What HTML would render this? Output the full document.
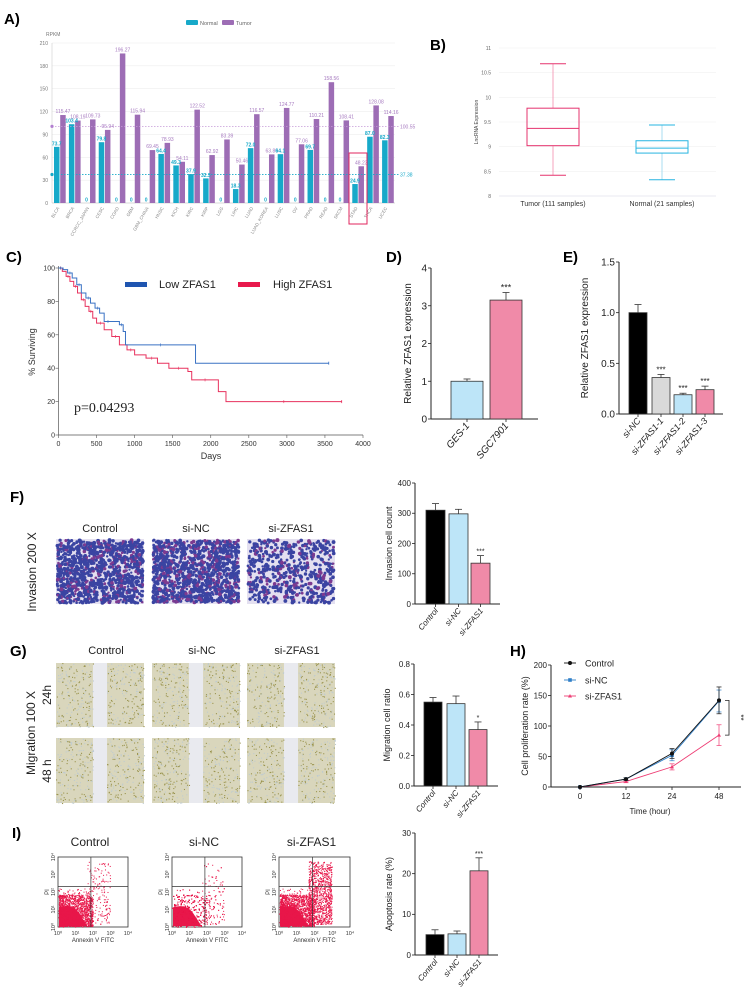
<!DOCTYPE html>
<html><head><meta charset="utf-8"><style>
html,body{margin:0;padding:0;background:#fff}
svg{display:block;font-family:"Liberation Sans",sans-serif}
</style></head><body>
<svg id="fig" width="755" height="1008" viewBox="0 0 755 1008" xmlns="http://www.w3.org/2000/svg"></svg>
<script>
// ---------- DATA ----------
const aCategories=["BLCA","BRCA","CCRCC_JAPAN","CESC","COAD","GBM","GBM_CHINA","HNSC","KICH","KIRC","KIRP","LGG","LIHC","LUAD","LUAD_KOREA","LUSC","OV","PRAD","READ","SKCM","STAD","THCA","UCEC"];
const aNormal=[73.7,103.4,0,79.8,0,0,0,64.4,49.3,37.9,32.3,0,18.3,72.0,0,64.1,0,69.7,0,0,24.9,87.0,82.3];
const aTumor=[115.47,108.19,109.73,95.94,196.27,115.94,69.45,78.93,54.11,122.52,62.92,83.39,50.46,116.57,63.8,124.77,77.06,110.21,158.56,108.41,48.23,128.08,114.16];
const aTicks=[0,30,60,90,120,150,180,210];
const aTumorMean=100.55, aNormalMean=37.38;
const bGroups=["Tumor (111 samples)","Normal (21 samples)"];
const bTumorStats=[8.42,9.02,9.37,9.78,10.68];
const bNormalStats=[8.33,8.87,8.97,9.12,9.44];
const bTicks=[8,8.5,9,9.5,10,10.5,11];
const kmLowT=[0,60,120,180,240,300,360,420,480,540,600,700,800,850,880,1800,3550];
const kmLowS=[100,99,97,94,90,85,82,79,76,73,68,68,66,62,54,43,43];
const kmHighT=[0,50,100,150,200,250,300,350,400,450,500,600,700,800,900,1000,1150,1300,1450,1700,1750,2100,2200,3720];
const kmHighS=[100,98,95,92,89,85,81,77,74,70,67,63,59,54,51,48,46,43,40,38,33,26,20,20];
const kmXTicks=[0,500,1000,1500,2000,2500,3000,3500,4000];
const kmYTicks=[0,20,40,60,80,100];
const dCats=["GES-1","SGC7901"], dVals=[1.0,3.15], dErr=[0.06,0.2], dTicks=[0,1,2,3,4];
const eCats=["si-NC","si-ZFAS1-1","si-ZFAS1-2","si-ZFAS1-3"], eVals=[1.0,0.36,0.19,0.24], eErr=[0.08,0.03,0.015,0.035], eTicks=[0,0.5,1.0,1.5];
const tripleCats=["Control","si-NC","si-ZFAS1"];
const fVals=[310,298,135], fErr=[22,15,25], fTicks=[0,100,200,300,400];
const gVals=[0.55,0.54,0.37], gErr=[0.03,0.05,0.05], gTicks=[0,0.2,0.4,0.6,0.8];
const iVals=[5.0,5.2,20.7], iErr=[1.2,0.7,3.2], iTicks=[0,10,20,30];
const hTimes=["0","12","24","48"], hTicks=[0,50,100,150,200];
const hControl=[0,13,55,142], hControlErr=[0,2,8,22];
const hNC=[0,13,52,141], hNCErr=[0,2,9,18];
const hSi=[0,9,33,85], hSiErr=[0,2,5,17];

// ---------- helpers ----------
const NS="http://www.w3.org/2000/svg";
const svg=document.getElementById('fig');
function el(tag,attrs,parent,text){const e=document.createElementNS(NS,tag);for(const k in attrs)e.setAttribute(k,attrs[k]);if(text!==undefined)e.textContent=text;(parent||svg).appendChild(e);return e;}
function grp(name){const g=el('g',{});return g;}
function lin(d0,d1,r0,r1){return v=>r0+(v-d0)*(r1-r0)/(d1-d0);}
function rng(seed){let s=seed;return()=>{s=(s*1103515245+12345)%2147483648;return s/2147483648;};}
function plabel(t,x,y){const e=el('text',{x:x,y:y,'font-size':15,'font-weight':'bold'},svg,t);}

// ---------- Panel A ----------
plabel("A)",4,24);
(function(){
const g=grp('panel-a-bar-chart');
const x0=52,x1=395,y=lin(0,210,203,43);const band=(x1-x0)/aCategories.length;
aTicks.forEach(t=>{el('line',{x1:x0,x2:x1,y1:y(t),y2:y(t),stroke:'#eee','stroke-width':0.6},g);el('text',{x:x0-4,y:y(t)+2,'font-size':5,fill:'#777','text-anchor':'end'},g,String(t));});
el('line',{x1:x0,x2:x0,y1:43,y2:203,stroke:'#ccc','stroke-width':0.6},g);
el('line',{x1:x0,x2:x1,y1:203,y2:203,stroke:'#bbb','stroke-width':0.6},g);
el('text',{x:46,y:36,'font-size':5,fill:'#777'},g,'RPKM');
aCategories.forEach((c,i)=>{
 const gx=x0+i*band;
 const nb=el('rect',{x:gx+2,y:y(aNormal[i]),width:5.5,height:203-y(aNormal[i]),fill:'#17a9c9'},g);
 
 const tb=el('rect',{x:gx+8.2,y:y(aTumor[i]),width:5.5,height:203-y(aTumor[i]),fill:'#9d6db5'},g);
 
 el('text',{x:gx+4.7,y:y(aNormal[i])-1.5,'font-size':5,'font-weight':'bold',fill:'#17a9c9','text-anchor':'middle'},g,aNormal[i]===0?'0':aNormal[i].toFixed(1));
 el('text',{x:gx+11,y:y(aTumor[i])-2,'font-size':5,fill:'#a77bc0','text-anchor':'middle'},g,aTumor[i].toFixed(2));
 const lx=gx+band/2,ly=208;
 el('text',{x:lx,y:ly,'font-size':4.5,fill:'#888','text-anchor':'end',transform:`rotate(-60 ${lx} ${ly})`},g,c);
});
el('line',{x1:x0,x2:x1+5,y1:y(aTumorMean),y2:y(aTumorMean),stroke:'#c59ad8','stroke-width':0.8,'stroke-dasharray':'1.5,1.5'},g);
el('circle',{cx:x0,cy:y(aTumorMean),r:1.6,fill:'#b27fd0'},g);
el('text',{x:400,y:y(aTumorMean)+2,'font-size':5,fill:'#a77bc0'},g,aTumorMean.toFixed(2));
el('line',{x1:x0,x2:x1+5,y1:y(aNormalMean),y2:y(aNormalMean),stroke:'#17a9c9','stroke-width':0.9,'stroke-dasharray':'1.5,1.5'},g);
el('circle',{cx:x0,cy:y(aNormalMean),r:1.6,fill:'#17a9c9'},g);
el('text',{x:400,y:y(aNormalMean)+2,'font-size':5,fill:'#17a9c9'},g,aNormalMean.toFixed(2));
const rb=el('rect',{x:349,y:153,width:18,height:71,fill:'none',stroke:'#e0245e','stroke-width':1},g);

const lg=grp('panel-a-legend');
el('rect',{x:186,y:20,width:12,height:5,fill:'#17a9c9',rx:1},lg);el('text',{x:200,y:25,'font-size':5.5,fill:'#666'},lg,'Normal');
el('rect',{x:222,y:20,width:12,height:5,fill:'#9d6db5',rx:1},lg);el('text',{x:236,y:25,'font-size':5.5,fill:'#666'},lg,'Tumor');
})();

// ---------- Panel B ----------
plabel("B)",430,50);
(function(){
const g=grp('panel-b-boxplot');
const x0=499,x1=716,y=lin(8,11,196,48);
bTicks.forEach(t=>{el('line',{x1:x0,x2:x1,y1:y(t),y2:y(t),stroke:'#f0f0f0','stroke-width':0.6},g);el('text',{x:x0-8,y:y(t)+2,'font-size':5,fill:'#666','text-anchor':'end'},g,String(t));});
el('line',{x1:x0,x2:x1,y1:196,y2:196,stroke:'#dde','stroke-width':0.6},g);
el('text',{x:478,y:122,'font-size':5,fill:'#444','text-anchor':'middle',transform:'rotate(-90 478 122)'},g,'LncRNA Expression');
[[bTumorStats,'#e5336e','#f4a3bd',553],[bNormalStats,'#27b4e0','#a9def0',662]].forEach((s,i)=>{
 const [st,c,cl,cx]=s;const bx=grp('box-'+(i?'normal':'tumor'));
 el('line',{x1:cx,x2:cx,y1:y(st[4]),y2:y(st[3]),stroke:cl,'stroke-width':1},bx);
 el('line',{x1:cx,x2:cx,y1:y(st[1]),y2:y(st[0]),stroke:cl,'stroke-width':1},bx);
 el('line',{x1:cx-13,x2:cx+13,y1:y(st[4]),y2:y(st[4]),stroke:c,'stroke-width':1},bx);
 el('line',{x1:cx-13,x2:cx+13,y1:y(st[0]),y2:y(st[0]),stroke:c,'stroke-width':1},bx);
 el('rect',{x:cx-26,y:y(st[3]),width:52,height:y(st[1])-y(st[3]),fill:'none',stroke:c,'stroke-width':1},bx);
 el('line',{x1:cx-26,x2:cx+26,y1:y(st[2]),y2:y(st[2]),stroke:c,'stroke-width':1},bx);
 el('text',{x:cx,y:206,'font-size':7,fill:'#333','text-anchor':'middle'},g,bGroups[i]);
});
})();

// ---------- Panel C ----------
plabel("C)",6,262);
(function(){
const g=grp('panel-c-km-plot');
const x=lin(0,4000,58.5,363),y=lin(0,100,435,268);
el('line',{x1:58.5,x2:58.5,y1:266,y2:435,stroke:'#555','stroke-width':0.7},g);
el('line',{x1:58.5,x2:363,y1:435,y2:435,stroke:'#555','stroke-width':0.7},g);
kmXTicks.forEach(t=>{el('line',{x1:x(t),x2:x(t),y1:435,y2:438,stroke:'#555','stroke-width':0.6},g);el('text',{x:x(t),y:446,'font-size':7,fill:'#333','text-anchor':'middle'},g,String(t));});
kmYTicks.forEach(t=>{el('line',{x1:55.5,x2:58.5,y1:y(t),y2:y(t),stroke:'#555','stroke-width':0.6},g);el('text',{x:55,y:y(t)+2.5,'font-size':7,fill:'#333','text-anchor':'end'},g,String(t));});
el('text',{x:211,y:459,'font-size':9,fill:'#333','text-anchor':'middle'},g,'Days');
el('text',{x:35,y:352,'font-size':9,fill:'#333','text-anchor':'middle',transform:'rotate(-90 35 352)'},g,'% Surviving');
function step(T,S,c,name){let d=`M${x(T[0])},${y(S[0])}`;for(let i=1;i<T.length;i++){d+=`H${x(T[i])}V${y(S[i])}`;}const p=el('path',{d:d,fill:'none',stroke:c,'stroke-width':1},g);
 for(let i=1;i<T.length;i+=2){const xm=x((T[i-1]+T[i])/2);el('line',{x1:xm,x2:xm,y1:y(S[i-1])-1.5,y2:y(S[i-1])+1.5,stroke:c,'stroke-width':0.6},g);}
 el('line',{x1:x(T[T.length-1]),x2:x(T[T.length-1]),y1:y(S[S.length-1])-1.5,y2:y(S[S.length-1])+1.5,stroke:c,'stroke-width':0.8},g);}
step(kmHighT,kmHighS,'#e8325e','km-high-zfas1');
step(kmLowT,kmLowS,'#3a72c4','km-low-zfas1');
const lg=grp('panel-c-legend');
el('rect',{x:125,y:282,width:22,height:5,fill:'#1f55b0'},lg);el('text',{x:159,y:288,'font-size':11,fill:'#222'},lg,'Low  ZFAS1');
el('rect',{x:238,y:282,width:22,height:5,fill:'#e8194c'},lg);el('text',{x:273,y:288,'font-size':11,fill:'#222'},lg,'High  ZFAS1');
el('text',{x:74,y:412,'font-size':14,'font-family':'"Liberation Serif",serif',fill:'#222'},g,'p=0.04293');
})();

// ---------- generic bar chart ----------
function barChart(opt){
 const g=grp(opt.name);const y=lin(opt.ticks[0],opt.ticks[opt.ticks.length-1],opt.y0,opt.y1);
 el('line',{x1:opt.ax,x2:opt.ax,y1:opt.y1,y2:opt.y0,stroke:'#222','stroke-width':1},g);
 el('line',{x1:opt.ax,x2:opt.axEnd,y1:opt.y0,y2:opt.y0,stroke:'#222','stroke-width':1},g);
 opt.ticks.forEach(t=>{el('line',{x1:opt.ax-3,x2:opt.ax,y1:y(t),y2:y(t),stroke:'#222','stroke-width':0.8},g);el('text',{x:opt.ax-4,y:y(t)+opt.fs*0.35,'font-size':opt.fs,fill:'#222','text-anchor':'end'},g,opt.fmt?opt.fmt(t):String(t));});
 opt.vals.forEach((v,i)=>{const bx=opt.bx[i],bw=opt.bw;const cx=bx+bw/2;
  const top=y(v+opt.err[i]);
  el('line',{x1:cx,x2:cx,y1:y(v),y2:top,stroke:'#333','stroke-width':0.8},g);
  el('line',{x1:cx-3.5,x2:cx+3.5,y1:top,y2:top,stroke:'#333','stroke-width':0.8},g);
  const r=el('rect',{x:bx,y:y(v),width:bw,height:opt.y0-y(v),fill:opt.colors[i],stroke:'#333','stroke-width':0.8},g);
  
  el('line',{x1:cx,x2:cx,y1:opt.y0,y2:opt.y0+3,stroke:'#222','stroke-width':0.8},g);
  const lx=cx+3,ly=opt.y0+7;el('text',{x:lx,y:ly,'font-size':opt.lfs,'font-style':'italic',fill:'#222','text-anchor':'end',transform:`rotate(-50 ${lx} ${ly})`},g,opt.cats[i]);
  if(opt.stars&&opt.stars[i])el('text',{x:cx,y:top-2,'font-size':opt.sfs||7,fill:'#222','text-anchor':'middle'},g,opt.stars[i]);
 });
 el('text',{x:opt.tx,y:(opt.y0+opt.y1)/2,'font-size':opt.tfs,fill:'#222','text-anchor':'middle',transform:`rotate(-90 ${opt.tx} ${(opt.y0+opt.y1)/2})`},g,opt.title);
}
plabel("D)",386,262);
barChart({name:'panel-d-bar-chart',cats:dCats,vals:dVals,err:dErr,ticks:dTicks,ax:431,axEnd:538,y0:419,y1:268,bx:[451,490],bw:32,colors:['#bde5f8','#f08aa8'],fs:10,lfs:10,tx:411,tfs:10,title:'Relative ZFAS1 expression',stars:['','***'],sfs:9});
plabel("E)",563,262);
barChart({name:'panel-e-bar-chart',cats:eCats,vals:eVals,err:eErr,ticks:eTicks,ax:619,axEnd:723,y0:414,y1:262,bx:[629,652,674,696],bw:18,colors:['#000','#d9d9d9','#bde5f8','#f08aa8'],fs:10,lfs:9,tx:588,tfs:10,title:'Relative ZFAS1 expression',fmt:t=>t.toFixed(1),stars:['','***','***','***'],sfs:8});

// ---------- micrographs ----------
function microInvasion(x,y,w,h,seed,n,name){
 const g=grp(name);const r=rng(seed);
 el('rect',{x:x,y:y,width:w,height:h,fill:'#e4e0f0'},g);
 for(let i=0;i<n;i++){const cx=x+1+r()*(w-2),cy=y+1+r()*(h-2);el('circle',{cx:cx,cy:cy,r:1.1+r()*0.9,fill:r()<0.8?'#3a44a2':'#7d3a90'},g);}
}
function microWound(x,y,w,h,seed,name){
 const g=grp(name);const r=rng(seed);
 el('rect',{x:x,y:y,width:w,height:h,fill:'#d9d6bc'},g);
 el('rect',{x:x+w*0.42,y:y,width:w*0.16,height:h,fill:'#e9eaef'},g);
 for(let i=0;i<500;i++){let cx=x+r()*w;if(cx>x+w*0.42&&cx<x+w*0.58)continue;el('rect',{x:cx,y:y+r()*h,width:1.1,height:1.1,fill:r()<0.5?'#9a944f':'#bfcbd0'},g);}
}
plabel("F)",10,502);
el('text',{x:36,y:572,'font-size':12,fill:'#222','text-anchor':'middle',transform:'rotate(-90 36 572)'},svg,'Invasion 200 X');
[[56,'control'],[152,'si-nc'],[247,'si-zfas1']].forEach((p,i)=>{
 el('text',{x:p[0]+44,y:532,'font-size':11,fill:'#222','text-anchor':'middle'},svg,tripleCats[i]);
 microInvasion(p[0],539,88,65,11+i*7,[1100,1150,600][i],'invasion-image-'+p[1]);
});
barChart({name:'panel-f-bar-chart',cats:tripleCats,vals:fVals,err:fErr,ticks:fTicks,ax:415,axEnd:500,y0:604,y1:483,bx:[426,449,471],bw:19,colors:['#000','#bde5f8','#f08aa8'],fs:8,lfs:8,tx:392,tfs:9,title:'Invasion cell count',stars:['','','***'],sfs:7});

plabel("G)",10,656);
el('text',{x:35,y:733,'font-size':12,fill:'#222','text-anchor':'middle',transform:'rotate(-90 35 733)'},svg,'Migration 100 X');
el('text',{x:51,y:695,'font-size':12,fill:'#222','text-anchor':'middle',transform:'rotate(-90 51 695)'},svg,'24h');
el('text',{x:51,y:771,'font-size':12,fill:'#222','text-anchor':'middle',transform:'rotate(-90 51 771)'},svg,'48 h');
[[56,'control'],[152,'si-nc'],[247,'si-zfas1']].forEach((p,i)=>{
 el('text',{x:p[0]+50,y:654,'font-size':11,fill:'#222','text-anchor':'middle'},svg,tripleCats[i]);
 microWound(p[0],663,88,64,31+i,'wound-24h-'+p[1]);
 microWound(p[0],738,88,65,41+i,'wound-48h-'+p[1]);
});
barChart({name:'panel-g-bar-chart',cats:tripleCats,vals:gVals,err:gErr,ticks:gTicks,ax:414,axEnd:498,y0:786,y1:664,bx:[424,447,469],bw:18,colors:['#000','#bde5f8','#f08aa8'],fs:8,lfs:8,tx:390,tfs:9,title:'Migration cell ratio',fmt:t=>t.toFixed(1),stars:['','','*'],sfs:7});

// ---------- Panel H ----------
(function(){
const e=el('text',{x:510,y:656,'font-size':15,'font-weight':'bold'},svg,'H)');
const g=grp('panel-h-line-chart');
const xs=[580,626,672,719];const y=lin(0,200,787,665);
el('line',{x1:551,x2:551,y1:665,y2:787,stroke:'#222','stroke-width':1},g);
el('line',{x1:551,x2:741,y1:787,y2:787,stroke:'#222','stroke-width':1},g);
hTicks.forEach(t=>{el('line',{x1:548,x2:551,y1:y(t),y2:y(t),stroke:'#222','stroke-width':0.8},g);el('text',{x:547,y:y(t)+3,'font-size':8,fill:'#222','text-anchor':'end'},g,String(t));});
hTimes.forEach((t,i)=>{el('line',{x1:xs[i],x2:xs[i],y1:787,y2:790,stroke:'#222','stroke-width':0.8},g);el('text',{x:xs[i],y:799,'font-size':8,fill:'#222','text-anchor':'middle'},g,t);});
el('text',{x:650,y:814,'font-size':8,fill:'#222','text-anchor':'middle'},g,'Time (hour)');
el('text',{x:528,y:726,'font-size':9,fill:'#222','text-anchor':'middle',transform:'rotate(-90 528 726)'},g,'Cell proliferation rate (%)');
[[hSi,hSiErr,'#ee3d74','si-zfas1','tri'],[hNC,hNCErr,'#2f7fc8','si-nc','sq'],[hControl,hControlErr,'#111','control','dot']].forEach(s=>{
 const [v,er,c,n,m]=s;const pts=v.map((d,i)=>xs[i]+','+y(d)).join(' ');
 const pl=el('polyline',{points:pts,fill:'none',stroke:c,'stroke-width':0.9},g);
 v.forEach((d,i)=>{if(er[i]){el('line',{x1:xs[i],x2:xs[i],y1:y(d-er[i]),y2:y(d+er[i]),stroke:c,'stroke-width':0.7},g);[d-er[i],d+er[i]].forEach(q=>el('line',{x1:xs[i]-2.5,x2:xs[i]+2.5,y1:y(q),y2:y(q),stroke:c,'stroke-width':0.7},g));}
  if(m==='dot')el('circle',{cx:xs[i],cy:y(d),r:2,fill:c},g);else if(m==='sq')el('rect',{x:xs[i]-1.8,y:y(d)-1.8,width:3.6,height:3.6,fill:c},g);else el('path',{d:`M${xs[i]},${y(d)-2}l2,3.5h-4z`,fill:c},g);});
});
el('path',{d:`M725,${y(142)}h4V${y(85)}h-4`,fill:'none',stroke:'#222','stroke-width':0.8},g);
el('text',{x:738,y:y(114),'font-size':8,fill:'#222','text-anchor':'middle',transform:`rotate(90 738 ${y(114)})`},g,'**');
const lg=grp('panel-h-legend');
[['Control','#111','dot',663],['si-NC','#2f7fc8','sq',680],['si-ZFAS1','#ee3d74','tri',696]].forEach(l=>{
 el('line',{x1:564,x2:576,y1:l[3],y2:l[3],stroke:l[1],'stroke-width':0.9},lg);
 if(l[2]==='dot')el('circle',{cx:570,cy:l[3],r:2,fill:l[1]},lg);else if(l[2]==='sq')el('rect',{x:568.2,y:l[3]-1.8,width:3.6,height:3.6,fill:l[1]},lg);else el('path',{d:`M570,${l[3]-2}l2,3.5h-4z`,fill:l[1]},lg);
 el('text',{x:585,y:l[3]+3.5,'font-size':9,fill:'#222'},lg,l[0]);
});
})();

// ---------- Panel I ----------
plabel("I)",12,838);
function flow(x,y,w,h,seed,extra,name,title){
 const g=grp(name);const r=rng(seed);
 el('text',{x:x+w/2-3,y:y-11,'font-size':12,fill:'#222','text-anchor':'middle'},g,title);
 el('rect',{x:x,y:y,width:w,height:h,fill:'#fff',stroke:'#333','stroke-width':0.8},g);
 const qx=x+w*0.47,qy=y+h*0.42;
 function pt(px,py){if(px>x&&px<x+w&&py>y&&py<y+h)el('rect',{x:px,y:py,width:1,height:1,fill:'#e8174a'},g);}
 el('path',{d:`M${x+1},${y+h-1}V${y+h*0.72}Q${x+w*0.2},${y+h*0.66} ${x+w*0.3},${y+h*0.8}Q${x+w*0.38},${y+h*0.92} ${x+w*0.42},${y+h-1}Z`,fill:'#e8174a'},g);
 for(let i=0;i<1500;i++){const a=r(),b=r();pt(x+1+Math.pow(a,1.3)*w*0.48,y+h-1-Math.pow(b,1.3)*h*0.45);}
 for(let i=0;i<200;i++)pt(x+r()*w*0.5,y+h*0.45+r()*h*0.55);
 for(let i=0;i<extra;i++){pt(qx-4+r()*w*0.33,y+4+Math.pow(r(),0.8)*h*0.9);}
 el('line',{x1:qx,x2:qx,y1:y,y2:y+h,stroke:'#333','stroke-width':0.7},g);
 el('line',{x1:x,x2:x+w,y1:qy,y2:qy,stroke:'#333','stroke-width':0.7},g);
 const lab=['10⁰','10¹','10²','10³','10⁴'];
 lab.forEach((l,i)=>{el('text',{x:x+i*w/4,y:y+h+8,'font-size':5.5,fill:'#333','text-anchor':'middle'},g,l);
  const ty=y+h-i*h/4;el('text',{x:x-3,y:ty,'font-size':5.5,fill:'#333','text-anchor':'middle',transform:`rotate(-90 ${x-3} ${ty})`},g,l);});
 el('text',{x:x+w/2,y:y+h+15,'font-size':6,fill:'#333','text-anchor':'middle'},g,'Annexin V FITC');
 el('text',{x:x-9,y:y+h/2,'font-size':6,fill:'#333','text-anchor':'middle',transform:`rotate(-90 ${x-9} ${y+h/2})`},g,'PI');
}
flow(58,857,70,70,5,180,'flow-plot-control','Control');
flow(172,857,70,70,9,170,'flow-plot-si-nc','si-NC');
flow(279,857,71,70,13,1000,'flow-plot-si-zfas1','si-ZFAS1');
barChart({name:'panel-i-bar-chart',cats:tripleCats,vals:iVals,err:iErr,ticks:iTicks,ax:415,axEnd:498,y0:955,y1:833,bx:[426,448,470],bw:18,colors:['#000','#bde5f8','#f08aa8'],fs:8,lfs:8,tx:392,tfs:9,title:'Apoptosis rate (%)',stars:['','','***'],sfs:7});
</script>
</body></html>
